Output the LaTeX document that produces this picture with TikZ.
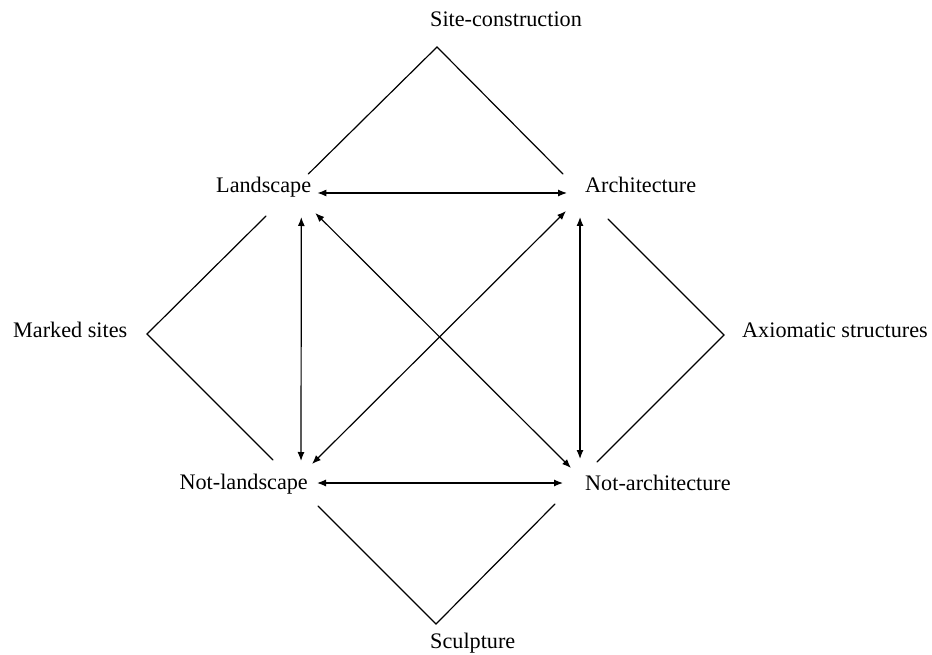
\documentclass[tikz,border=0pt]{standalone}
\usepackage{fontspec}
\setmainfont{Liberation Serif}
\usetikzlibrary{arrows.meta,calc}
\begin{document}
\begin{tikzpicture}[x=1pt,y=-1pt,
  lbl/.style={inner sep=0pt,font=\fontsize{22.2}{26}\selectfont},
  ln/.style={line width=1.2pt,line cap=round,line join=miter},
  arr/.style={line width=1.2pt,{Latex[length=9pt,width=7pt]}-{Latex[length=9pt,width=7pt]}}]
\useasboundingbox (0,0) rectangle (932,655);
% labels
\node[lbl,anchor=base west] (sc) at (430,27) {Site-construction};
\node[lbl,anchor=base west] (land) at (216,193) {Landscape};
\node[lbl,anchor=base west] (arch) at (585,193) {Architecture};
\node[lbl,anchor=base west] (ms) at (13,337) {Marked sites};
\node[lbl,anchor=base west] (ax) at (742,337) {Axiomatic structures};
\node[lbl,anchor=base east] (nland) at (308,489) {Not-landscape};
\node[lbl,anchor=base west] (narch) at (585,490) {Not-architecture};
\node[lbl,anchor=base west] (sculp) at (430,648) {Sculpture};
% apex coordinates
\coordinate (scA) at (437,47);
\coordinate (msA) at (147,334);
\coordinate (axA) at (724,335);
\coordinate (spA) at (436,624);
% V-shapes
\draw[ln] ([shift={(-3,-19)}]land.base east) -- (scA) -- ([shift={(-22,-19)}]arch.base west);
\draw[ln] ([shift={(50,23)}]land.base west) -- (msA) -- ([shift={(-35,-29)}]nland.base east);
\draw[ln] ([shift={(23,26)}]arch.base west) -- (axA) -- ([shift={(12,-28)}]narch.base west);
\draw[ln] ([shift={(10,17)}]nland.base east) -- (spA) -- ([shift={(-30,14)}]narch.base west);
% double arrows
\draw[arr] ([shift={(6,0)}]land.base east) -- ([shift={(-18,0)}]arch.base west);
\draw[arr] ([shift={(9,-6)}]nland.base east) -- ([shift={(-22,-7)}]narch.base west);
\draw[arr] ([shift={(-10,24)}]land.base east) -- ([shift={(-7,-28)}]nland.base east);
\draw[arr] ([shift={(-5,24)}]arch.base west) -- ([shift={(-5,-31)}]narch.base west);
\draw[arr] ([shift={(4,20)}]land.base east) -- ([shift={(-14,-22)}]narch.base west);
\draw[arr] ([shift={(-19,18)}]arch.base west) -- ([shift={(4,-25)}]nland.base east);
\end{tikzpicture}
\end{document}
